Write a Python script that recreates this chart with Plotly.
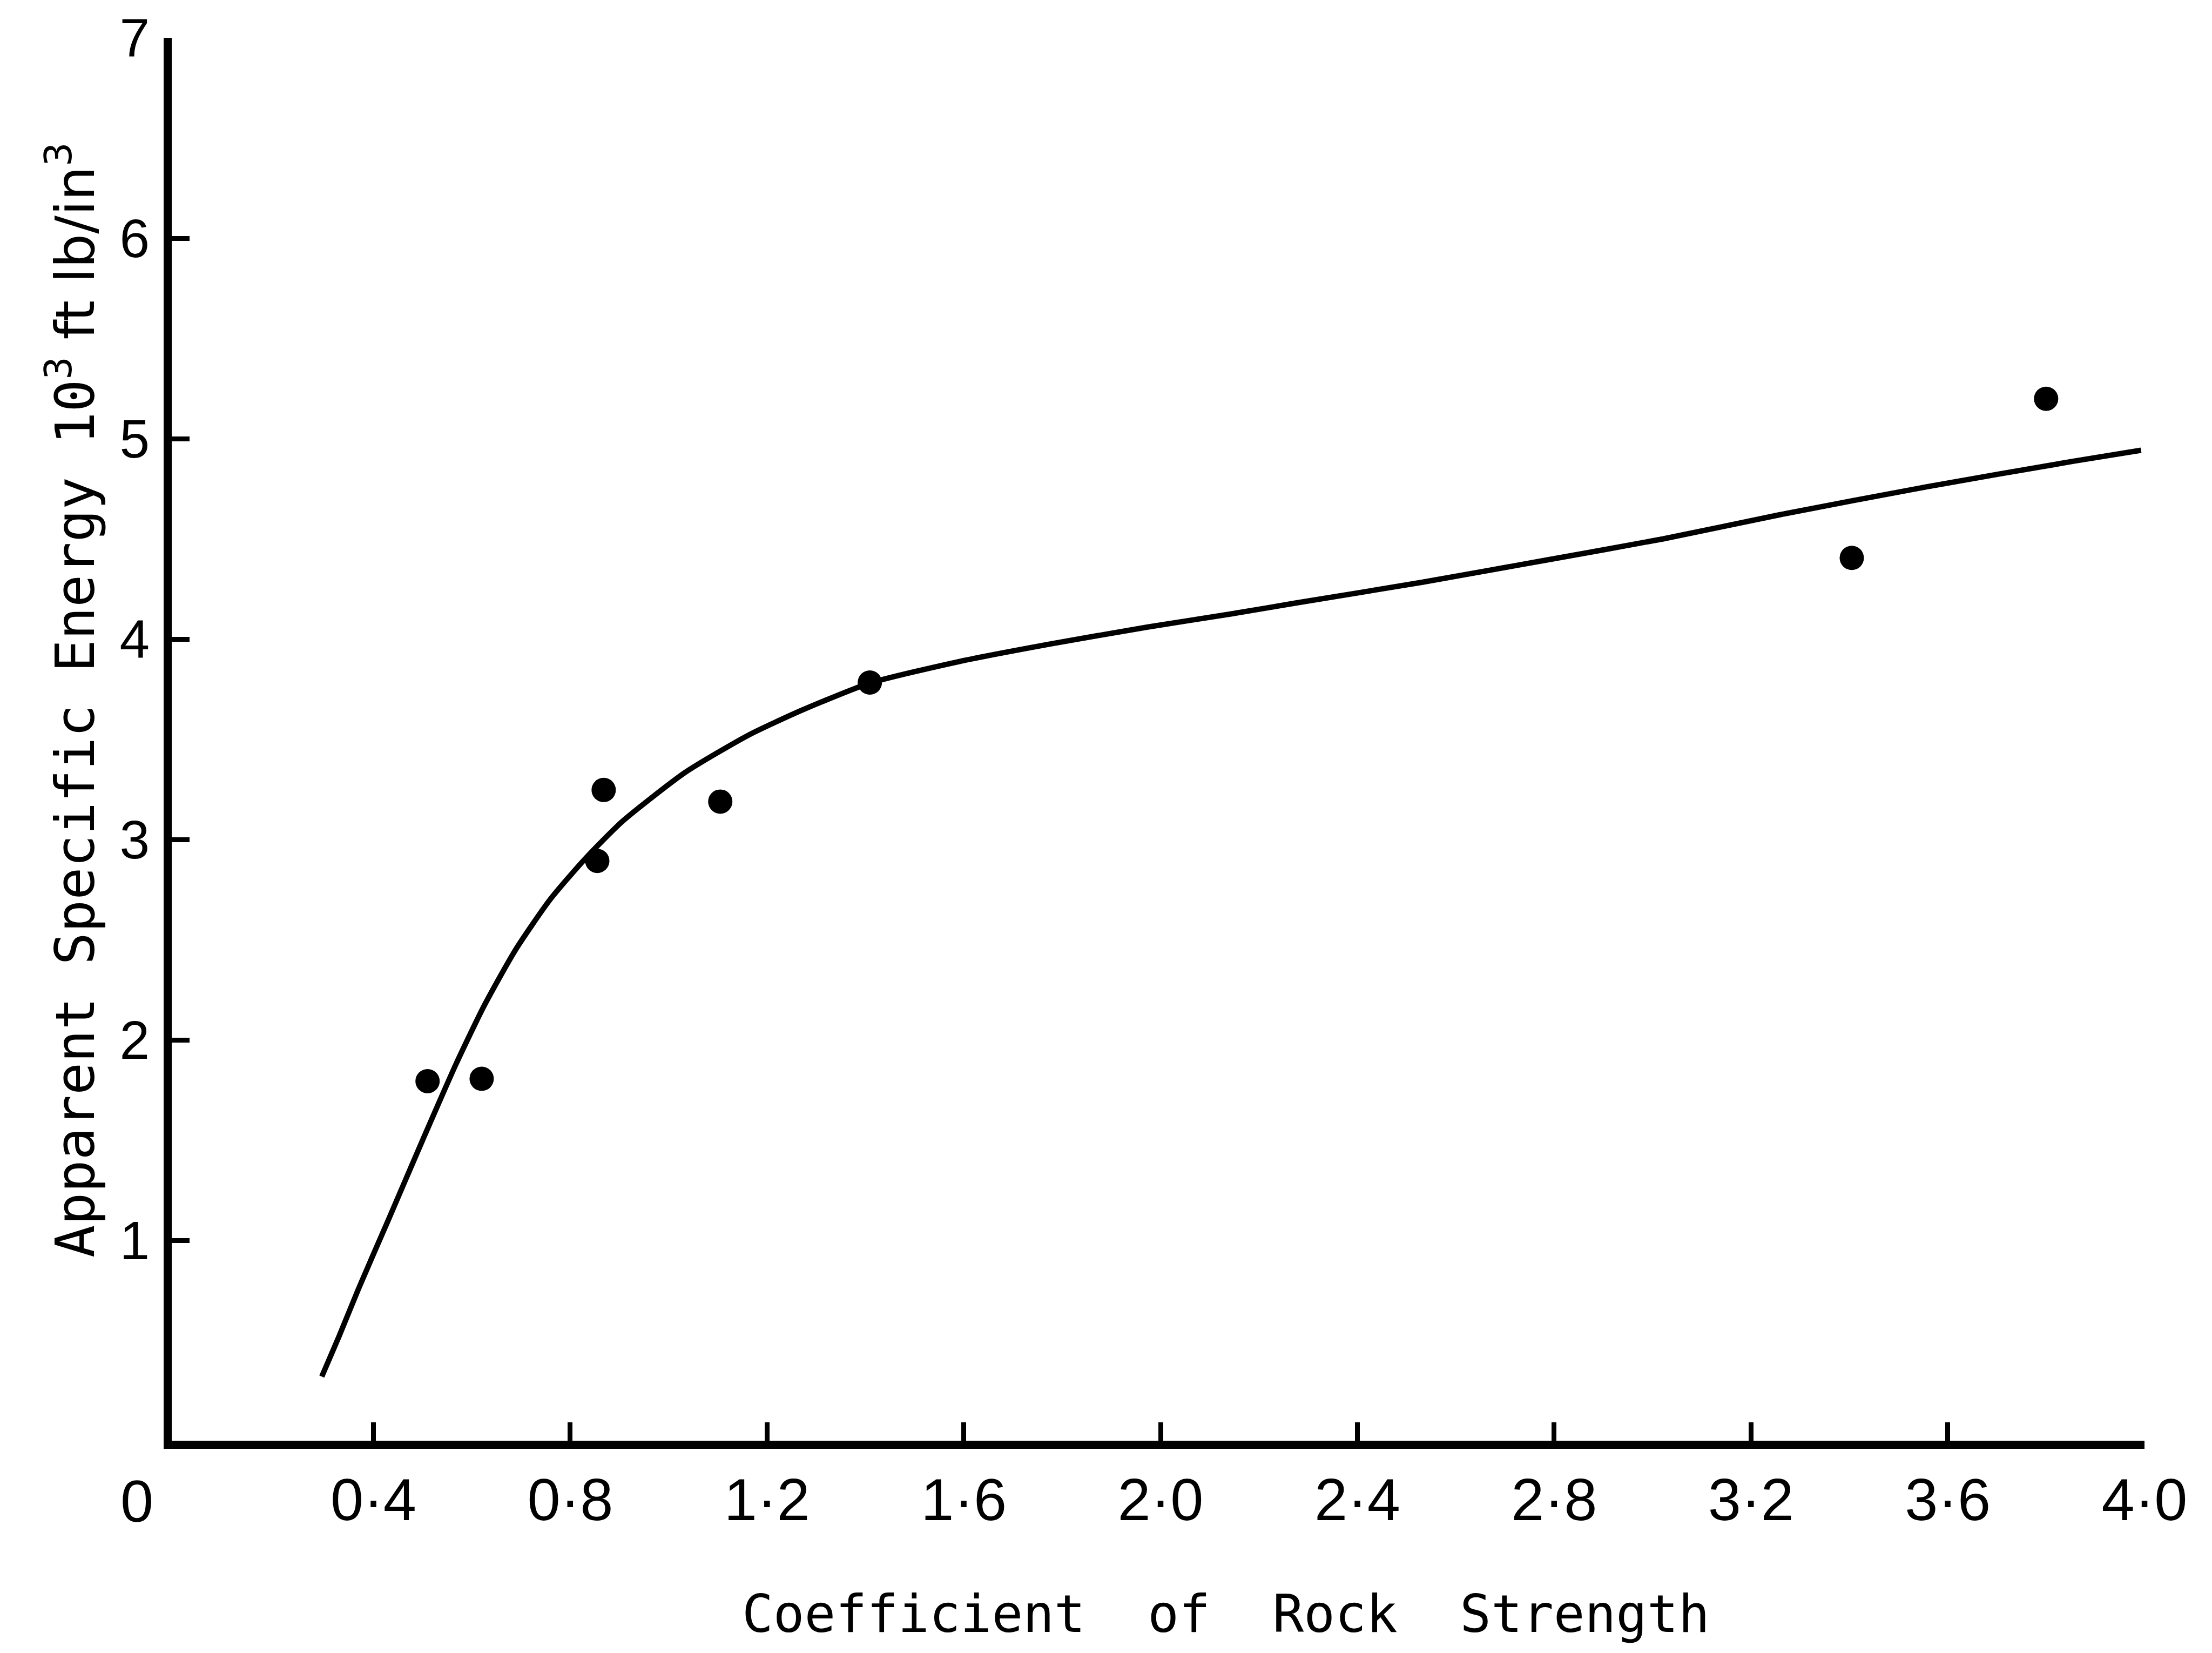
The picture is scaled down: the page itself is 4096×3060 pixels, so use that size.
import plotly.graph_objects as go

# Measured data points (Coefficient of Rock Strength vs Apparent Specific Energy)
pts_x = [0.51, 0.62, 0.855, 0.868, 1.105, 1.409, 3.405, 3.80]
pts_y = [1.794, 1.806, 2.893, 3.247, 3.189, 3.783, 4.405, 5.199]

# Fitted curve
curve_x = [0.295, 0.33, 0.37, 0.43, 0.50, 0.568, 0.625, 0.689, 0.759, 0.829,
           0.906, 1.034, 1.162, 1.271, 1.409, 1.591, 1.782, 1.974, 2.145, 2.275,
           2.531, 2.786, 3.022, 3.258, 3.556, 3.855, 3.993]
curve_y = [0.32, 0.52, 0.76, 1.10, 1.50, 1.88, 2.17, 2.45, 2.70, 2.90,
           3.09, 3.335, 3.52, 3.645, 3.78, 3.888, 3.978, 4.06, 4.126, 4.18,
           4.283, 4.395, 4.50, 4.62, 4.759, 4.887, 4.942]

x_tickvals = [0.4, 0.8, 1.2, 1.6, 2.0, 2.4, 2.8, 3.2, 3.6, 4.0]
x_ticktext = ["0·4", "0·8", "1·2", "1·6", "2·0", "2·4", "2·8", "3·2", "3·6", "4·0"]
y_tickvals = [1, 2, 3, 4, 5, 6, 7]
y_ticktext = ["1", "2", "3", "4", "5", "6", "7"]

fig = go.Figure()
fig.add_trace(go.Scatter(x=curve_x, y=curve_y, mode="lines",
                         line=dict(color="black", width=10, shape="spline", smoothing=0.6),
                         showlegend=False, hoverinfo="skip"))
fig.add_trace(go.Scatter(x=pts_x, y=pts_y, mode="markers",
                         marker=dict(color="black", size=45, line=dict(width=0)),
                         showlegend=False))

tick_font = dict(family="Liberation Sans", size=110, color="black")
mono = "DejaVu Sans Mono"

fig.update_layout(
    width=4096, height=3060, autosize=False,
    margin=dict(l=318, r=125, t=70, b=393, pad=0),
    paper_bgcolor="white", plot_bgcolor="white",
    xaxis=dict(range=[-0.01, 4.0], showline=True, linewidth=15, linecolor="black",
               ticks="inside", ticklen=34, tickwidth=9, tickcolor="black",
               tickvals=x_tickvals, ticktext=x_ticktext, tickfont=tick_font,
               showgrid=False, zeroline=False, ticklabelstandoff=0),
    yaxis=dict(range=[0, 7], showline=True, linewidth=15, linecolor="black",
               ticks="inside", ticklen=33, tickwidth=9, tickcolor="black",
               tickvals=y_tickvals, ticktext=y_ticktext,
               tickfont=dict(family="Liberation Sans", size=100, color="black"),
               showgrid=False, zeroline=False, ticklabelstandoff=6),
)

gap = "\u00a0\u00a0"
xtitle = "Coefficient" + gap + "of" + gap + "Rock" + gap + "Strength"
ytitle = ("Apparent\u00a0Specific\u00a0Energy\u00a010<sup>3</sup>"
          '<span style="font-family:DejaVu Sans">\u00a0ft\u00a0lb/in<sup>3</sup></span>')

fig.add_annotation(text=xtitle, xref="paper", yref="paper",
                   x=(2270 - 318) / 3653, y=0, yshift=-321,
                   xanchor="center", yanchor="middle", showarrow=False,
                   font=dict(family=mono, size=96, color="black"))
fig.add_annotation(text=ytitle, xref="paper", yref="paper",
                   x=0, xshift=-186, y=(2667 - 1296) / 2597,
                   xanchor="center", yanchor="middle", textangle=-90, showarrow=False,
                   font=dict(family=mono, size=100, color="black"))
fig.add_annotation(text="0", xref="paper", yref="paper", x=0, xshift=-65,
                   y=0, yshift=-111, xanchor="center", yanchor="middle", showarrow=False,
                   font=tick_font)

fig.write_html("out.html")
